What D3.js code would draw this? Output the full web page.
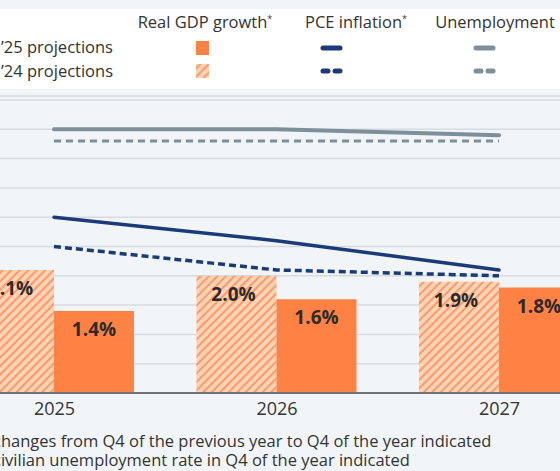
<!DOCTYPE html>
<html><head><meta charset="utf-8">
<script src="https://cdn.jsdelivr.net/npm/d3@7"></script>
<style>body{margin:0;background:#f2f5f8}svg{display:block}text{font-family:"Open Sans",sans-serif}</style>
</head><body><svg id="c" width="560" height="471"></svg>
<script>
const years = ["2025","2026","2027"];
const gdpMar25 = [1.4, 1.6, 1.8];
const gdpDec24 = [2.1, 2.0, 1.9];
const pceMar25 = [3.0, 2.6, 2.1];
const pceDec24 = [2.5, 2.1, 2.0];
const unempMar25 = [4.5, 4.5, 4.4];
const unempDec24 = [4.3, 4.3, 4.3];
const yTicks = d3.range(0, 5.01, 0.5);
const seriesNames = ["Real GDP growth*", "PCE inflation*", "Unemployment"];
const rowNames = ["Mar. \u201925 projections", "Dec. \u201924 projections"];
const notes = ["* Percent changes from Q4 of the previous year to Q4 of the year indicated",
               "** The civilian unemployment rate in Q4 of the year indicated"];

const svg = d3.select("#c");
const orange="#ff8244", navy="#1b3a78", gray="#7d8f9a";
const defs = svg.append("defs");
const pat = defs.append("pattern").attr("id","hatch").attr("patternUnits","userSpaceOnUse")
  .attr("width",6).attr("height",6).attr("patternTransform","rotate(45)");
pat.append("rect").attr("width",6).attr("height",6).attr("fill","#ffd3b8");
pat.append("rect").attr("width",2).attr("height",6).attr("fill","#ff9a66");

svg.append("rect").attr("width",560).attr("height",471).attr("fill","#f2f5f8");
svg.append("rect").attr("y",9).attr("width",560).attr("height",80).attr("fill","#fff");
svg.append("rect").attr("y",95).attr("width",560).attr("height",2).attr("fill","#dde2e7");

const y = d3.scaleLinear().domain([0,5]).range([393,100]);
const x = d3.scalePoint().domain(years).range([54,499]);
const bw = 80;

svg.append("g").selectAll("line").data(yTicks.slice(1)).join("line")
  .attr("x1",0).attr("x2",560).attr("y1",d=>y(d)).attr("y2",d=>y(d))
  .attr("stroke","#d5dbe1").attr("stroke-width",1.5);

const bars = svg.append("g");
years.forEach((yr,i)=>{
  const cx = x(yr);
  [[gdpDec24[i], cx-bw, "url(#hatch)"], [gdpMar25[i], cx, orange]].forEach(([v,x0,f])=>{
    bars.append("rect").attr("x",x0).attr("y",y(v)).attr("width",bw).attr("height",y(0)-y(v)).attr("fill",f);
    bars.append("text").attr("x",x0+bw/2-(f===orange?0:3)).attr("y",y(v)+25).attr("text-anchor","middle")
      .attr("font-size",19).attr("font-weight",700).attr("fill","#2b2b2b").text(v.toFixed(1)+"%");
  });
});
svg.append("line").attr("x1",0).attr("x2",560).attr("y1",393).attr("y2",393).attr("stroke","#6f7478").attr("stroke-width",2);

const line = d3.line().x((d,i)=>x(years[i])).y(d=>y(d));
function drawLine(data,color,dash,w){
  svg.append("path").attr("d",line(data)).attr("fill","none").attr("stroke",color)
    .attr("stroke-width",w).attr("stroke-dasharray",dash).attr("stroke-linecap",dash?"butt":"round");
}
drawLine(unempMar25,gray,null,4);
drawLine(unempDec24,gray,"7,5",3);
drawLine(pceMar25,navy,null,3.5);
drawLine(pceDec24,navy,"7,4",3.5);

const xAxis = svg.append("g").attr("transform","translate(0,393)")
  .call(d3.axisBottom(x).tickSize(0).tickPadding(9));
xAxis.select(".domain").remove();
xAxis.selectAll("text").attr("font-size",18).attr("fill","#333").style("font-family","'Open Sans',sans-serif");

// legend
const hx = [205, 356, 495];
seriesNames.forEach((s,i)=>svg.append("text").attr("x",hx[i]).attr("y",28).attr("text-anchor","middle")
  .attr("font-size",16.5).attr("fill","#333").text(s.replace("*","")).append("tspan").attr("dy",-6).attr("font-size",9).text(s.includes("*")?"*":""));
rowNames.forEach((r,i)=>svg.append("text").attr("x",113).attr("y",53+i*24).attr("text-anchor","end")
  .attr("font-size",16.5).attr("fill","#333").text(r));
svg.append("rect").attr("x",196).attr("y",41).attr("width",13).attr("height",14).attr("fill",orange);
svg.append("rect").attr("x",196).attr("y",64).attr("width",13).attr("height",14).attr("fill","url(#hatch)");
[[323,navy],[476,gray]].forEach(([lx,c])=>{
  svg.append("line").attr("x1",lx).attr("x2",lx+17).attr("y1",48).attr("y2",48).attr("stroke",c).attr("stroke-width",5).attr("stroke-linecap","round");
  svg.append("line").attr("x1",lx).attr("x2",lx+5).attr("y1",71).attr("y2",71).attr("stroke",c).attr("stroke-width",5).attr("stroke-linecap","round");
  svg.append("line").attr("x1",lx+12).attr("x2",lx+17).attr("y1",71).attr("y2",71).attr("stroke",c).attr("stroke-width",5).attr("stroke-linecap","round");
});

// footnotes (left part cut off by frame)
const offs = [notes[0].indexOf("changes"), notes[1].indexOf("civilian")];
notes.forEach((n,i)=>{
  const t = svg.append("text").attr("y",447+i*19).attr("font-size",16.5).attr("fill","#333").text(n);
  const pre = t.node().getSubStringLength(0, offs[i]);
  t.attr("x",-7-pre);
});
</script></body></html>
